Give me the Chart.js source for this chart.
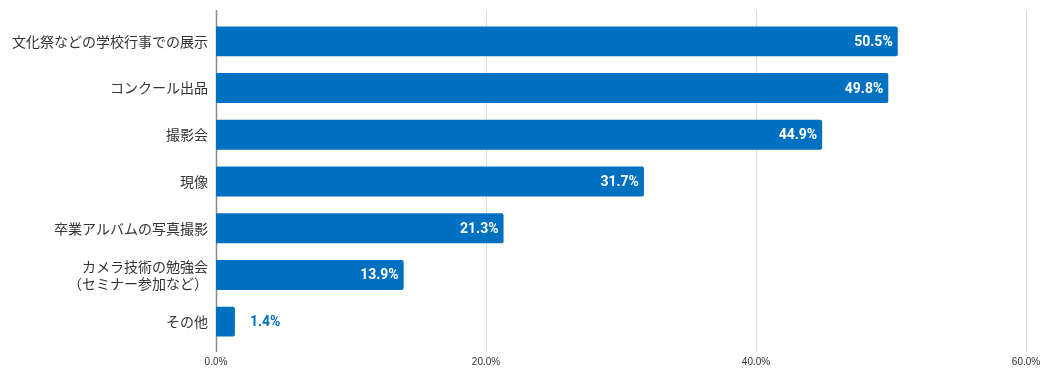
<!DOCTYPE html>
<html>
<head>
<meta charset="utf-8">
<script src="https://cdn.jsdelivr.net/npm/chart.js@4"></script>
<style>
  html, body { margin: 0; padding: 0; background: #fff; }
  #wrap { width: 1046px; height: 378px; position: relative; }
</style>
</head>
<body>
<div id="wrap"><canvas id="barChart"></canvas></div>
<script>
'use strict';

// ── data ──────────────────────────────
const categories = [
  '文化祭などの学校行事での展示',
  'コンクール出品',
  '撮影会',
  '現像',
  '卒業アルバムの写真撮影',
  ['カメラ技術の勉強会', '（セミナー参加など）'],
  'その他'
];
const values = [50.5, 49.8, 44.9, 31.7, 21.3, 13.9, 1.4];
const xTicks = [0, 20, 40, 60];

const BAR_COLOR = '#0070C0';

// grid lines drawn a bit past the plot area, like the original
const gridPlugin = {
  id: 'gridLines',
  beforeDatasetsDraw(chart) {
    const { ctx, chartArea, scales: { x } } = chart;
    ctx.save();
    xTicks.forEach(v => {
      const px = Math.round(x.getPixelForValue(v)) + 0.5;
      ctx.beginPath();
      ctx.strokeStyle = v === 0 ? '#8a8a8a' : '#dcdcdc';
      ctx.lineWidth = v === 0 ? 1.5 : 1;
      ctx.moveTo(px, chartArea.top - 8);
      ctx.lineTo(px, chartArea.bottom + 7);
      ctx.stroke();
    });
    ctx.restore();
  }
};

// value labels at bar end (inside when room, else outside)
const labelPlugin = {
  id: 'valueLabels',
  afterDatasetsDraw(chart) {
    const { ctx } = chart;
    const meta = chart.getDatasetMeta(0);
    ctx.save();
    ctx.font = "bold 14px 'Roboto', 'Liberation Sans', sans-serif";
    ctx.textBaseline = 'middle';
    meta.data.forEach((bar, i) => {
      const txt = values[i].toFixed(1) + '%';
      const w = ctx.measureText(txt).width;
      const barW = bar.x - bar.base;
      if (barW > w + 12) {
        ctx.fillStyle = '#fff';
        ctx.textAlign = 'right';
        ctx.fillText(txt, bar.x - 5, bar.y + 1);
      } else {
        ctx.fillStyle = BAR_COLOR;
        ctx.textAlign = 'left';
        ctx.fillText(txt, bar.x + 15, bar.y + 1);
      }
    });
    ctx.restore();
  }
};

new Chart(document.getElementById('barChart').getContext('2d'), {
  type: 'bar',
  data: {
    labels: categories,
    datasets: [{
      data: values,
      backgroundColor: BAR_COLOR,
      borderRadius: 2,
      borderSkipped: 'start',
      barPercentage: 0.64,
      categoryPercentage: 1
    }]
  },
  options: {
    indexAxis: 'y',
    responsive: true, maintainAspectRatio: false,
    animation: false,
    layout: { padding: { top: 18, right: 20, bottom: 0, left: 0 } },
    plugins: {
      legend: { display: false },
      tooltip: { enabled: false }
    },
    scales: {
      x: {
        min: 0, max: 60,
        afterBuildTicks: s => { s.ticks = xTicks.map(v => ({ value: v })); },
        afterFit: s => { s.height = 33; s.paddingLeft = 0; s.paddingRight = 0; },
        grid: { display: false, drawTicks: false },
        border: { display: false },
        ticks: {
          padding: 11, maxRotation: 0,
          color: '#333',
          font: { family: "'Liberation Sans', Arial, sans-serif", size: 10 },
          callback: v => v.toFixed(1) + '%'
        }
      },
      y: {
        afterFit: s => { s.width = 216; s.paddingTop = 0; s.paddingBottom = 0; },
        grid: { display: false, drawTicks: false },
        border: { display: false },
        ticks: {
          padding: 8,
          color: '#333',
          font: { family: "'Noto Sans CJK JP', sans-serif", size: 14, lineHeight: 1.2 }
        }
      }
    }
  },
  plugins: [gridPlugin, labelPlugin]
});
</script>
</body>
</html>
